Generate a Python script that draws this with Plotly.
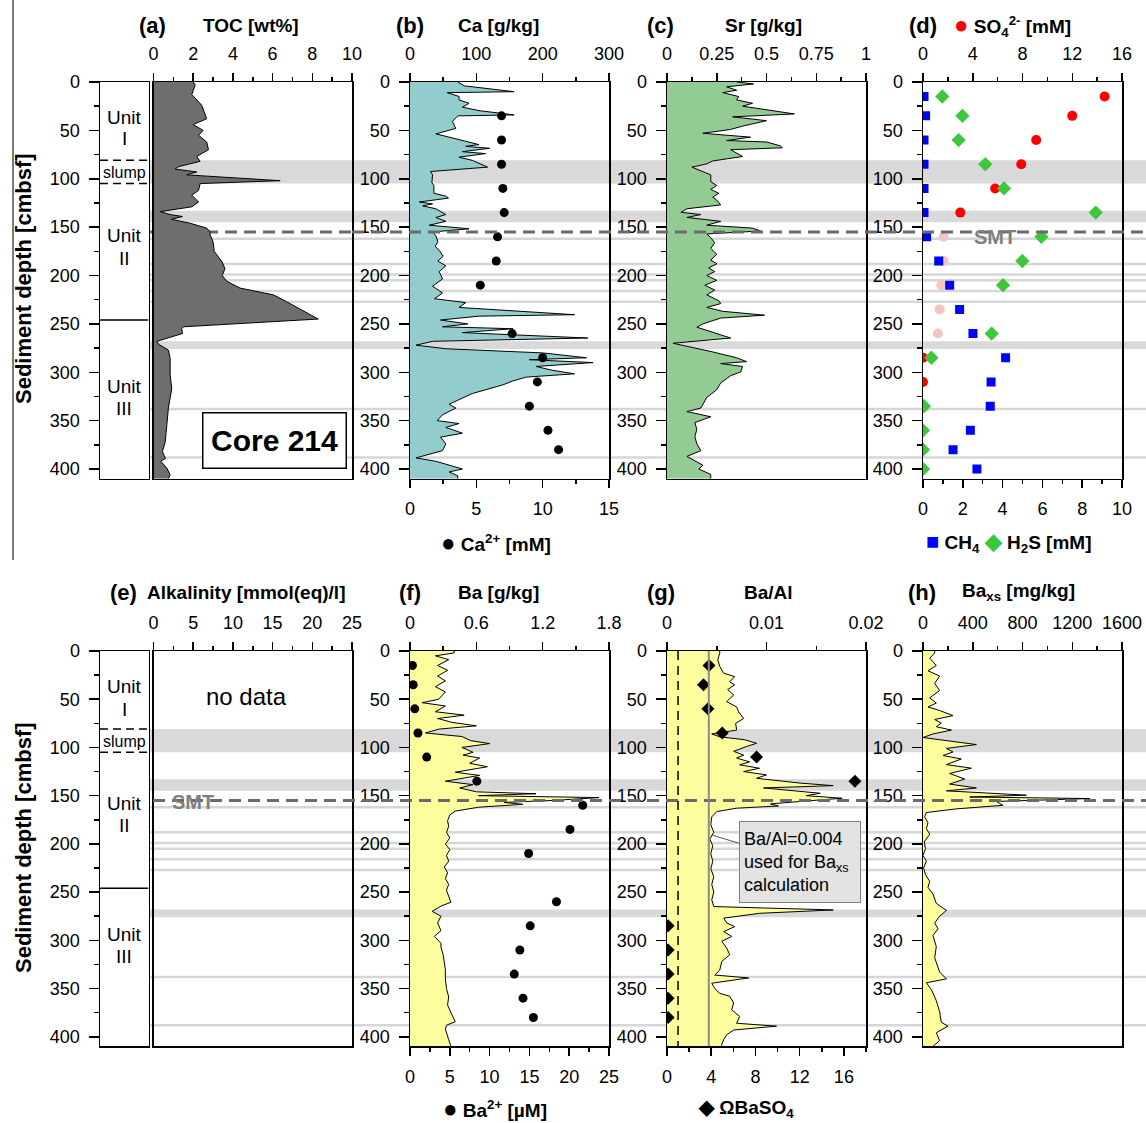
import plotly.graph_objects as go

W, H = 1146, 1123
FONT = "Arial, 'Liberation Sans', sans-serif"

# ---------------- depth axis ----------------
depth_ticks = [0, 50, 100, 150, 200, 250, 300, 350, 400]
depth_minor = [25, 75, 125, 175, 225, 275, 325, 375]

# ---------------- (a) TOC ----------------
toc_depth = [0, 3, 13, 24, 38, 44, 50, 55, 62, 70,
             77, 82, 87.5, 90, 93, 96, 102, 105, 112, 117,
             124, 129, 134, 137, 139, 142, 146, 151, 155, 158,
             165, 175, 186, 193, 200, 206, 213, 220, 227, 237,
             245, 253, 255, 260, 268, 271, 277, 286, 303, 317,
             327, 337, 355, 372, 382, 389, 392, 399, 406, 410]
toc_wt = [2.0, 2.1, 1.93, 2.43, 2.68, 2.0, 2.5, 2.27, 2.68, 2.77,
          2.18, 2.35, 1.26, 1.09, 2.18, 1.68, 6.38, 2.35, 2.27, 1.93,
          2.27, 1.93, 0.34, 0.84, 1.46, 0.9, 1.85, 2.68, 2.85, 2.85,
          3.0, 3.06, 3.46, 3.6, 3.46, 3.7, 4.36, 6.04, 6.7, 7.55,
          8.3, 1.5, 1.42, 1.46, 0.17, 0.25, 0.75, 0.84, 0.84, 0.92,
          0.84, 0.75, 0.67, 0.59, 0.45, 0.6, 0.37, 0.67, 0.84, 0.75]

# ---------------- (b) Ca ----------------
ca_depth = [0, 4, 10, 11, 15, 18.5, 22, 26, 29.6, 33,
            34, 35, 40.7, 48, 53.6, 57, 61, 64.7, 66.5, 68.5,
            72, 74, 77.7, 81, 88, 92.5, 96, 104, 107, 115,
            118, 120, 124, 126, 128, 131, 137, 140, 144, 148,
            151.7, 155, 159, 165, 170, 174, 180, 185, 190, 196,
            203.5, 211, 218, 224, 228, 233, 240.5, 242, 246, 250,
            253, 255, 259, 264.6, 268, 272, 275.7, 280, 285, 287,
            290, 294, 298, 301.6, 305, 309, 313, 322, 333, 337,
            344, 350, 353, 357, 363, 367, 374, 381, 388.5, 392,
            396, 400, 403, 407, 410]
ca_gkg = [72, 82, 157, 56, 74, 74, 89, 79, 104, 145,
          157, 72, 64, 69, 39, 59, 82, 104, 84, 120,
          79, 114, 74, 94, 117, 31, 34, 33, 36, 36,
          54, 58, 14, 34, 19, 39, 54, 39, 54, 29,
          89, 34, 39, 42, 38, 44, 50, 42, 54, 44,
          49, 34, 49, 37, 84, 74, 248, 104, 46, 87,
          49, 155, 79, 268, 34, 9, 54, 200, 266, 180,
          276, 190, 215, 248, 175, 155, 140, 94, 59, 69,
          49, 41, 74, 54, 79, 46, 54, 49, 9, 39,
          59, 79, 59, 72, 72]
ca_pw_depth = [35, 60, 85, 110, 135, 160, 185, 210, 260, 285, 310, 335, 360, 380]
ca_pw_mm = [6.9, 6.9, 6.9, 7.0, 7.1, 6.6, 6.5, 5.3, 7.7, 10.0, 9.6, 9.0, 10.4, 11.2]

# ---------------- (c) Sr ----------------
sr_depth = [0, 2, 5, 8.5, 11, 15, 18.5, 22, 25, 31,
            33, 36, 40, 45.6, 49, 53, 57, 60.5, 62, 66,
            68, 70, 73.5, 77, 81.6, 84.6, 88, 92, 96, 103,
            107, 111, 115, 119, 122, 127, 131, 134.7, 137, 140,
            144, 148, 151, 154, 157, 161, 166, 172, 178, 184,
            188, 192, 196, 200, 205, 210, 215, 220, 226, 229,
            233, 237, 241, 244, 250, 253.4, 259, 264.6, 270, 276,
            279, 285, 289, 291, 294, 299.8, 303.5, 311, 318, 326,
            337, 340.6, 346, 352, 359, 366.6, 374, 381, 387, 392.6,
            396, 400, 405.6, 410]
sr_gkg = [0.35, 0.435, 0.30, 0.35, 0.28, 0.36, 0.35, 0.43, 0.38, 0.59,
          0.64, 0.33, 0.50, 0.38, 0.32, 0.18, 0.42, 0.30, 0.50, 0.57,
          0.58, 0.32, 0.35, 0.38, 0.23, 0.20, 0.125, 0.17, 0.22, 0.22,
          0.25, 0.22, 0.26, 0.23, 0.25, 0.27, 0.10, 0.07, 0.17, 0.10,
          0.27, 0.20, 0.43, 0.47, 0.20, 0.22, 0.24, 0.22, 0.25, 0.22,
          0.25, 0.21, 0.24, 0.20, 0.25, 0.19, 0.24, 0.20, 0.26, 0.27,
          0.20, 0.28, 0.49, 0.27, 0.18, 0.15, 0.23, 0.32, 0.03, 0.17,
          0.23, 0.35, 0.40, 0.27, 0.38, 0.37, 0.32, 0.27, 0.25, 0.20,
          0.17, 0.10, 0.22, 0.14, 0.15, 0.14, 0.15, 0.17, 0.10, 0.15,
          0.18, 0.16, 0.22, 0.22]

# ---------------- (d) pore water ----------------
so4_depth = [15, 35, 60, 85, 110, 135, 285, 310]
so4_mm = [14.6, 12.0, 9.1, 7.9, 5.8, 3.0, 0.0, 0.0]
so4_faint_depth = [160, 185, 210, 235, 260]
so4_faint_mm = [1.66, 1.66, 1.47, 1.34, 1.2]
ch4_depth = [15, 35, 60, 85, 110, 135, 160, 185, 210, 235, 260, 285, 310, 335, 360, 380, 400]
ch4_mm = [0.05, 0.13, 0.05, 0.05, 0.05, 0.05, 0.18, 0.79, 1.34, 1.84, 2.51, 4.15, 3.42, 3.38, 2.38, 1.51, 2.71]
h2s_depth = [15, 35, 60, 85, 110, 135, 160, 185, 210, 260, 285, 335, 360, 380, 400]
h2s_mm = [0.97, 1.98, 1.79, 3.13, 4.07, 8.68, 5.95, 4.99, 4.02, 3.45, 0.42, 0.05, 0.0, 0.0, 0.0]

# ---------------- (f) Ba ----------------
ba_depth = [0, 2, 5, 9, 15, 20, 26, 31, 37, 42.5,
            50, 53.6, 57, 63, 66.5, 70, 74, 77.6, 81, 85,
            88.7, 93, 96, 100, 105, 108, 111, 116.4, 120, 125.7,
            129, 135, 138.6, 142, 146, 148, 150, 152, 155, 157,
            159, 162, 166, 170, 176, 182, 188, 194, 200, 206,
            212, 218, 224, 230, 236, 242, 248, 255, 260.6, 264,
            270, 275, 282, 290, 296, 303, 307, 315, 322, 330,
            340, 350, 358.6, 367, 375, 384.5, 388, 392, 403, 410]
ba_gkg = [0.40, 0.40, 0.23, 0.35, 0.25, 0.34, 0.25, 0.32, 0.23, 0.32,
          0.26, 0.11, 0.32, 0.23, 0.49, 0.25, 0.38, 0.60, 0.26, 0.14,
          0.47, 0.55, 0.72, 0.47, 0.57, 0.48, 0.63, 0.54, 0.70, 0.41,
          0.63, 0.32, 0.57, 0.45, 0.60, 1.14, 0.62, 1.71, 1.29, 0.85,
          1.02, 0.62, 0.41, 0.36, 0.34, 0.35, 0.33, 0.36, 0.32, 0.36,
          0.33, 0.35, 0.31, 0.34, 0.32, 0.35, 0.33, 0.35, 0.37, 0.29,
          0.20, 0.28, 0.25, 0.28, 0.22, 0.28, 0.28, 0.30, 0.31, 0.32,
          0.32, 0.33, 0.35, 0.34, 0.37, 0.41, 0.33, 0.32, 0.35, 0.37]
ba_pw_depth = [15, 35, 60, 85, 110, 135, 160, 185, 210, 260, 285, 310, 335, 360, 380]
ba_pw_um = [0.3, 0.4, 0.6, 1.0, 2.1, 8.4, 21.7, 20.1, 14.9, 18.4, 15.1, 13.8, 13.1, 14.2, 15.5]

# ---------------- (g) Ba/Al ----------------
baal_depth = [0, 2.4, 9, 16, 23, 26.6, 32, 35, 40, 45.6,
              52.5, 58, 63, 70, 75, 82, 86, 89, 92, 95.7,
              99, 104, 108, 111, 115, 118, 121.6, 125, 128.5, 132,
              137, 139.6, 142, 146, 147.5, 150, 152.7, 156, 158.6, 160.7,
              163, 166.5, 172, 180, 188, 195, 202, 210, 218, 226,
              234, 242, 250, 258, 265, 268.5, 272, 277, 282, 285.8,
              291, 296, 301, 308, 315, 322, 331, 336, 339, 344.5,
              350, 355, 358, 365, 372, 379, 386, 389, 393, 398,
              403, 408, 410]
baal_ratio = [0.0053, 0.0053, 0.0051, 0.0053, 0.0057, 0.0068, 0.0063, 0.0068, 0.0061, 0.0067,
              0.0060, 0.0070, 0.0072, 0.0077, 0.0069, 0.0070, 0.0045, 0.0053, 0.0078, 0.0090,
              0.0080, 0.0067, 0.0077, 0.0070, 0.0083, 0.0073, 0.0093, 0.0077, 0.0100, 0.0090,
              0.0134, 0.0167, 0.0097, 0.0137, 0.0154, 0.0140, 0.0176, 0.0134, 0.0104, 0.0112,
              0.0070, 0.0050, 0.0045, 0.0044, 0.0047, 0.0043, 0.0046, 0.0044, 0.0046, 0.0044,
              0.0047, 0.0045, 0.0047, 0.0045, 0.0047, 0.0167, 0.0093, 0.0057, 0.0060, 0.0068,
              0.0057, 0.0065, 0.0055, 0.0060, 0.0063, 0.0055, 0.0053, 0.0048, 0.0082, 0.0045,
              0.0048, 0.0053, 0.0063, 0.0067, 0.0065, 0.0073, 0.0070, 0.0110, 0.0067, 0.0060,
              0.0057, 0.0055, 0.0055]
omega_depth = [15, 35, 60, 85, 110, 135, 285, 310, 335, 360, 380]
omega_baso4 = [3.8, 3.3, 3.7, 5.0, 8.1, 17.0, 0.1, 0.1, 0.1, 0.1, 0.1]
baal_background = 0.0042
omega_saturation = 1

# ---------------- (h) Ba excess ----------------
baxs_depth = [0, 2, 7.5, 15, 20.5, 26, 33.6, 41, 48.6, 54,
              58, 61.7, 67, 71, 74.8, 78.5, 82, 86, 89.7, 93.5,
              97, 101, 104.7, 108.4, 112, 117.8, 121.5, 127, 132.7, 138,
              142, 145, 149.5, 151.4, 153, 156, 160, 163.7, 167.5, 172,
              178, 184, 190, 198, 205, 212, 218, 225, 232, 239,
              245, 252, 261.7, 269, 275, 282, 288, 295, 306.5, 318,
              333, 340, 344, 351, 362.6, 374, 385, 389, 396, 404,
              410]
baxs_mgkg = [94, 94, 54, 107, 40, 134, 94, 134, 54, 107,
             40, 134, 241, 94, 147, 107, 228, 80, 0, 241,
             429, 188, 241, 161, 308, 188, 389, 214, 335, 214,
             429, 188, 831, 375, 1340, 590, 643, 268, 27, 13,
             40, 27, 54, 10, 20, 0, 27, 5, 20, 54,
             40, 80, 107, 188, 134, 94, 121, 80, 107, 94,
             134, 188, 27, 67, 107, 134, 147, 200, 107, 134,
             80]

# ---------------- horizons ----------------
gray_bands = [(81, 105), (133, 145), (268, 276)]
thin_horizons = [162, 188, 199, 205, 216, 227, 338, 388]
smt_depth = 155
unit_bounds_dashed = [81, 105]
unit_bound_solid = 246

# ---------------- tick definitions ----------------
toc_ticks, toc_minor = [0, 2, 4, 6, 8, 10], [1, 3, 5, 7, 9]
ca_ticks, ca_minor = [0, 100, 200, 300], [50, 150, 250]
camm_ticks, camm_minor = [0, 5, 10, 15], [2.5, 7.5, 12.5]
sr_ticks, sr_labels, sr_minor = [0, 0.25, 0.5, 0.75, 1], ["0", "0.25", "0.5", "0.75", "1"], [0.125, 0.375, 0.625, 0.875]
so4_ticks, so4_minor = [0, 4, 8, 12, 16], [2, 6, 10, 14]
ch4_ticks, ch4_minor = [0, 2, 4, 6, 8, 10], [1, 3, 5, 7, 9]
alk_ticks, alk_minor = [0, 5, 10, 15, 20, 25], [2.5, 7.5, 12.5, 17.5, 22.5]
ba_ticks, ba_labels, ba_minor = [0, 0.6, 1.2, 1.8], ["0", "0.6", "1.2", "1.8"], [0.3, 0.9, 1.5]
baum_ticks, baum_minor = [0, 5, 10, 15, 20, 25], [2.5, 7.5, 12.5, 17.5, 22.5]
baal_ticks, baal_labels, baal_minor = [0, 0.01, 0.02], ["0", "0.01", "0.02"], [0.005, 0.015]
om_ticks, om_minor = [0, 4, 8, 12, 16], [2, 6, 10, 14, 18]
baxs_ticks, baxs_minor = [0, 400, 800, 1200, 1600], [200, 600, 1000, 1400]

# ---------------- geometry helpers (picture pixels -> paper) ----------------
def px(x):
    return x / W

def py(y):
    return 1 - y / H

R1 = [py(478.7), py(82)]
R2 = [py(1046.4), py(651)]
LIT = [px(100), px(148.5)]
C1 = [px(153.5), px(352)]
C2 = [px(410), px(609)]
C3 = [px(667), px(866)]
C4 = [px(923), px(1122)]


def xcfg(dom, rng, anchor, vals=None, text=None, minor=None, side="top", overlaying=None, mirror=True):
    cfg = dict(domain=dom, range=rng, anchor=anchor, side=side, showline=True, linecolor="black",
               linewidth=1.5, mirror=mirror, showgrid=False, zeroline=False, fixedrange=True,
               automargin=False)
    if vals is None:
        cfg.update(ticks="", showticklabels=False)
    else:
        cfg.update(ticks="outside", ticklen=8, tickwidth=1.5, tickcolor="black", tickmode="array",
                   tickvals=vals, ticktext=text if text else [str(v) for v in vals],
                   tickfont=dict(size=18, color="black", family=FONT), ticklabelstandoff=5)
        if minor:
            cfg["minor"] = dict(tickmode="array", tickvals=minor, ticks="outside", ticklen=4,
                                tickwidth=1.5, tickcolor="black", showgrid=False)
    if overlaying:
        cfg["overlaying"] = overlaying
    return cfg


def ycfg(dom, anchor, labels=True):
    cfg = dict(domain=dom, range=[410, 0], anchor=anchor, side="left", showline=True, linecolor="black",
               linewidth=1.5, mirror=True, showgrid=False, zeroline=False, fixedrange=True,
               automargin=False)
    if labels:
        cfg.update(ticks="outside", ticklen=10, tickwidth=1.5, tickcolor="black", tickmode="array",
                   tickvals=depth_ticks, ticktext=[str(v) for v in depth_ticks],
                   tickfont=dict(size=18, color="black", family=FONT), ticklabelstandoff=5,
                   minor=dict(tickmode="array", tickvals=depth_minor, ticks="outside", ticklen=5,
                              tickwidth=1.5, tickcolor="black", showgrid=False))
    else:
        cfg.update(ticks="", showticklabels=False)
    return cfg


fig = go.Figure()


def area(x, y, color, xa, ya):
    fig.add_trace(go.Scatter(x=x, y=y, mode="lines", fill="tozerox", fillcolor=color,
                             line=dict(color="black", width=1), xaxis=xa, yaxis=ya,
                             hoverinfo="skip", showlegend=False))


def pts(x, y, color, symbol, size, xa, ya):
    fig.add_trace(go.Scatter(x=x, y=y, mode="markers",
                             marker=dict(color=color, symbol=symbol, size=size, line=dict(width=0)),
                             xaxis=xa, yaxis=ya, hoverinfo="skip", showlegend=False))


def empty(xa, ya):
    fig.add_trace(go.Scatter(x=[0], y=[2000], mode="markers", marker=dict(size=1, opacity=0),
                             xaxis=xa, yaxis=ya, hoverinfo="skip", showlegend=False))


# ---- traces ----
empty("x", "y")
area(toc_wt, toc_depth, "#6e6e6e", "x2", "y2")
area(ca_gkg, ca_depth, "#93cccc", "x3", "y3")
pts(ca_pw_mm, ca_pw_depth, "black", "circle", 9, "x4", "y3")
area(sr_gkg, sr_depth, "#94cb94", "x5", "y4")
pts(so4_mm, so4_depth, "#ff0000", "circle", 10, "x6", "y5")
pts(so4_faint_mm, so4_faint_depth, "#f6c4c4", "circle", 10, "x6", "y5")
pts(ch4_mm, ch4_depth, "#0000ff", "square", 9, "x7", "y5")
pts(h2s_mm, h2s_depth, "#3cc83c", "diamond", 11, "x7", "y5")

empty("x8", "y6")
empty("x9", "y7")
area(ba_gkg, ba_depth, "#fdfd9e", "x10", "y8")
pts(ba_pw_um, ba_pw_depth, "black", "circle", 9, "x11", "y8")
area(baal_ratio, baal_depth, "#fdfd9e", "x12", "y9")
pts(omega_baso4, omega_depth, "black", "diamond", 10, "x13", "y9")
area(baxs_mgkg, baxs_depth, "#fdfd9e", "x14", "y10")

# ---- layout axes ----
layout = dict(
    template="none",
    width=W, height=H, autosize=False,
    margin=dict(l=0, r=0, t=0, b=0, pad=0, autoexpand=False),
    paper_bgcolor="white", plot_bgcolor="rgba(0,0,0,0)", showlegend=False,
    font=dict(family=FONT, size=18, color="black"),
    xaxis=xcfg(LIT, [0, 1], "y"),
    yaxis=ycfg(R1, "x"),
    xaxis2=xcfg(C1, [0, 10], "y2", toc_ticks, None, toc_minor),
    yaxis2=ycfg(R1, "x2", labels=False),
    xaxis3=xcfg(C2, [0, 300], "y3", ca_ticks, None, ca_minor),
    xaxis4=xcfg(C2, [0, 15], "y3", camm_ticks, None, camm_minor, side="bottom", overlaying="x3", mirror=False),
    yaxis3=ycfg(R1, "x3"),
    xaxis5=xcfg(C3, [0, 1], "y4", sr_ticks, sr_labels, sr_minor),
    yaxis4=ycfg(R1, "x5"),
    xaxis6=xcfg(C4, [0, 16], "y5", so4_ticks, None, so4_minor),
    xaxis7=xcfg(C4, [0, 10], "y5", ch4_ticks, None, ch4_minor, side="bottom", overlaying="x6", mirror=False),
    yaxis5=ycfg(R1, "x6"),
    xaxis8=xcfg(LIT, [0, 1], "y6"),
    yaxis6=ycfg(R2, "x8"),
    xaxis9=xcfg(C1, [0, 25], "y7", alk_ticks, None, alk_minor),
    yaxis7=ycfg(R2, "x9", labels=False),
    xaxis10=xcfg(C2, [0, 1.8], "y8", ba_ticks, ba_labels, ba_minor),
    xaxis11=xcfg(C2, [0, 25], "y8", baum_ticks, None, baum_minor, side="bottom", overlaying="x10", mirror=False),
    yaxis8=ycfg(R2, "x10"),
    xaxis12=xcfg(C3, [0, 0.02], "y9", baal_ticks, baal_labels, baal_minor),
    xaxis13=xcfg(C3, [0, 18], "y9", om_ticks, None, om_minor, side="bottom", overlaying="x12", mirror=False),
    yaxis9=ycfg(R2, "x12"),
    xaxis14=xcfg(C4, [0, 1600], "y10", baxs_ticks, None, baxs_minor),
    yaxis10=ycfg(R2, "x14"),
)
fig.update_layout(**layout)

# ---- shapes: horizons ----
for yref in ["y2", "y7"]:
    for top, bot in gray_bands:
        fig.add_shape(type="rect", xref="paper", yref=yref, x0=px(149), x1=1, y0=top, y1=bot,
                      fillcolor="#d9d9d9", line=dict(width=0), layer="below")
    for d in thin_horizons:
        fig.add_shape(type="line", xref="paper", yref=yref, x0=px(149), x1=1, y0=d, y1=d,
                      line=dict(color="#d6d6d6", width=2.5), layer="below")

smt_line = dict(color="#6b6b6b", width=3, dash="12px,7px")
fig.add_shape(type="line", xref="paper", yref="y2", x0=px(149), x1=px(352), y0=smt_depth, y1=smt_depth,
              line=smt_line, layer="below")
fig.add_shape(type="line", xref="paper", yref="y2", x0=px(352), x1=1, y0=smt_depth, y1=smt_depth,
              line=smt_line, layer="above")
fig.add_shape(type="line", xref="paper", yref="y7", x0=px(153), x1=1, y0=smt_depth, y1=smt_depth,
              line=smt_line, layer="above")

# lithology boundaries
for xr, yr in [("x", "y"), ("x8", "y6")]:
    for d in unit_bounds_dashed:
        fig.add_shape(type="line", xref=xr, yref=yr, x0=0, x1=1, y0=d, y1=d,
                      line=dict(color="black", width=1.5, dash="8px,5px"))
    fig.add_shape(type="line", xref=xr, yref=yr, x0=0, x1=1, y0=unit_bound_solid, y1=unit_bound_solid,
                  line=dict(color="black", width=1.5))

# (g) reference lines
fig.add_shape(type="line", xref="x12", yref="y9", x0=baal_background, x1=baal_background, y0=0, y1=410,
              line=dict(color="#8c8c8c", width=2), layer="above")
fig.add_shape(type="line", xref="x13", yref="y9", x0=omega_saturation, x1=omega_saturation, y0=0, y1=410,
              line=dict(color="black", width=1.5, dash="9px,6px"), layer="above")

# left separator
fig.add_shape(type="line", xref="paper", yref="paper", x0=px(13), x1=px(13), y0=py(0), y1=py(560),
              line=dict(color="#7a7a7a", width=2))

# ---- annotations ----
def ann(x, y, text, size=18, color="black", **kw):
    fig.add_annotation(x=px(x), y=py(y), xref="paper", yref="paper", text=text, showarrow=False,
                       font=dict(size=size, color=color, family=FONT), xanchor="center", yanchor="middle", **kw)

DOT = "<span style='font-size:24px'>●</span>"
# row 1 titles
ann(152, 26, "<b>(a)</b>", 22)
ann(251, 26, "<b>TOC [wt%]</b>", 19)
ann(410, 26, "<b>(b)</b>", 22)
ann(498, 26, "<b>Ca [g/kg]</b>", 19)
ann(660, 26, "<b>(c)</b>", 22)
ann(763, 26, "<b>Sr [g/kg]</b>", 19)
ann(923, 26, "<b>(d)</b>", 22)
ann(1012, 26, "<b><span style='color:#ff0000;font-size:24px'>●</span> SO<sub>4</sub><sup>2-</sup> [mM]</b>", 19)
ann(496, 542, "<b>" + DOT + " Ca<sup>2+</sup> [mM]</b>", 19)
ann(1008, 542, "<b><span style='color:#0000ff;font-size:22px'>■</span> CH<sub>4</sub> "
               "<span style='color:#3cc83c;font-size:22px'>◆</span> H<sub>2</sub>S [mM]</b>", 19)

# row 2 titles
ann(123, 592, "<b>(e)</b>", 22)
ann(246, 592, "<b>Alkalinity [mmol(eq)/l]</b>", 19)
ann(410, 592, "<b>(f)</b>", 22)
ann(498, 592, "<b>Ba [g/kg]</b>", 19)
ann(661, 592, "<b>(g)</b>", 22)
ann(768, 592, "<b>Ba/Al</b>", 19)
ann(922, 592, "<b>(h)</b>", 22)
ann(1018, 592, "<b>Ba<sub>xs</sub> [mg/kg]</b>", 19)
ann(495, 1108, "<b>" + DOT + " Ba<sup>2+</sup> [µM]</b>", 19)
ann(746, 1108, "<b><span style='font-size:20px'>◆</span> ΩBaSO<sub>4</sub></b>", 19)

# depth titles
ann(23, 279, "<b>Sediment depth [cmbsf]</b>", 22, textangle=-90)
ann(23, 848, "<b>Sediment depth [cmbsf]</b>", 22, textangle=-90)

# misc labels
ann(246, 696, "no data", 24)
ann(995, 237, "<b>SMT</b>", 20, color="#7f7f7f")
ann(193, 802, "<b>SMT</b>", 20, color="#7f7f7f")
ann(274, 440, "<b>Core 214</b>", 30, bgcolor="white", bordercolor="black", borderwidth=1.5,
    borderpad=6, width=130, height=42)

# lithology labels
litho_r1 = [("Unit", 37, 19), ("I", 58, 19), ("slump", 94, 16), ("Unit", 159, 19), ("II", 182, 19),
            ("Unit", 315, 19), ("III", 337, 19)]
litho_r2 = [("Unit", 37, 19), ("I", 61, 19), ("slump", 94, 16), ("Unit", 158, 19), ("II", 181, 19),
            ("Unit", 294, 19), ("III", 317, 19)]
for (xr, yr), labels in [(("x", "y"), litho_r1), (("x8", "y6"), litho_r2)]:
    for txt, d, s in labels:
        fig.add_annotation(x=0.5, y=d, xref=xr, yref=yr, text=txt, showarrow=False,
                           font=dict(size=s, color="black", family=FONT))

# Ba/Al callout
fig.add_annotation(x=0.00452, y=190.8, xref="x12", yref="y9", ax=88, ay=27,
                   text="Ba/Al=0.004<br>used for Ba<sub>xs</sub><br>calculation", showarrow=True,
                   arrowhead=0, arrowwidth=1, arrowcolor="#555555", standoff=0,
                   bgcolor="#e3e3e3", bordercolor="#7f7f7f", borderwidth=1, borderpad=4,
                   width=112, height=72, align="left", font=dict(size=18, color="black", family=FONT))

fig.write_html("out.html", config={"displayModeBar": False, "staticPlot": True},
               post_script="document.body.style.margin='0px';document.body.style.overflow='hidden';")
